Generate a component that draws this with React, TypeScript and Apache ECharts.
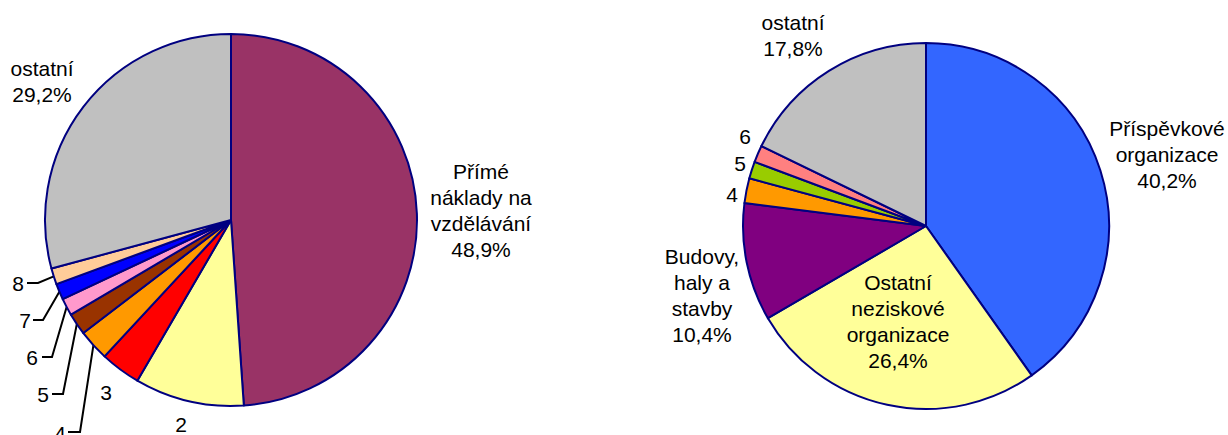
import React, { useEffect, useRef } from "react";
import * as echarts from "echarts";

const leftNames = ["Přímé náklady na vzdělávání", "2", "3", "4", "5", "6", "7", "8", "ostatní"];
const leftValues = [48.9, 9.5, 3.5, 2.7, 1.9, 1.5, 1.4, 1.4, 29.2];
const leftLabels = ["Přímé\nnáklady na\nvzdělávání\n48,9%", "2", "3", "4", "5", "6", "7", "8", "ostatní\n29,2%"];
const leftColors = ["#993366", "#FFFF99", "#FF0000", "#FF9900", "#993300", "#FF99CC", "#0000FF", "#FFCC99", "#C0C0C0"];

const rightNames = ["Příspěvkové organizace", "Ostatní neziskové organizace", "Budovy, haly a stavby", "4", "5", "6", "ostatní"];
const rightValues = [40.2, 26.4, 10.4, 2.2, 1.5, 1.5, 17.8];
const rightLabels = ["Příspěvkové\norganizace\n40,2%", "Ostatní\nneziskové\norganizace\n26,4%", "Budovy,\nhaly a\nstavby\n10,4%", "4", "5", "6", "ostatní\n17,8%"];
const rightColors = ["#3366FF", "#FFFF99", "#800080", "#FF9900", "#99CC00", "#FF8080", "#C0C0C0"];

// layout (label anchor positions, px)
const LEFT_C = [231, 220];
const LEFT_R = 186;
const RIGHT_C = [926, 226];
const RIGHT_R = 183;
const leftLabelPos: number[][] = [[481, 210], [181, 424], [106, 392], [60, 433], [43, 394], [32, 357], [25, 320], [18, 283], [42, 81]];
const leftElbow: Record<number, number[][]> = {
  3: [[80, 432], [68, 432]],
  4: [[63, 394], [52, 394]],
  5: [[52, 357], [42, 357]],
  6: [[43, 320], [33, 320]],
  7: [[38, 283], [27, 283]],
};
const rightLabelPos: number[][] = [[1167, 154], [898, 321], [702, 295], [732, 194], [740, 163], [745, 136], [793, 35]];

function rimPoint(values: number[], idx: number, c: number[], r: number) {
  const total = values.reduce((a, b) => a + b, 0);
  let start = 0;
  for (let i = 0; i < idx; i++) start += values[i];
  const a = ((start + values[idx] / 2) / total) * Math.PI * 2;
  return [c[0] + r * Math.sin(a), c[1] - r * Math.cos(a)];
}

const FONT = "'Liberation Sans', Arial, sans-serif";

export default function App() {
  const ref = useRef<HTMLDivElement>(null);
  useEffect(() => {
    document.body.style.margin = "0";
    const chart = echarts.init(ref.current!, undefined, { renderer: "svg" });
    const itemStyleBase = { borderColor: "#000080", borderWidth: 2 };
    chart.setOption({
      animation: false,
      backgroundColor: "#ffffff",
      series: [
        {
          type: "pie",
          center: LEFT_C,
          radius: LEFT_R,
          startAngle: 90,
          clockwise: true,
          avoidLabelOverlap: false,
          label: {
            show: true,
            position: "outside",
            color: "#000",
            fontSize: 21,
            lineHeight: 26,
            fontFamily: FONT,
            align: "center",
            formatter: (p: any) => leftLabels[p.dataIndex],
          },
          labelLine: { show: false, lineStyle: { color: "#000", width: 2 } },
          labelLayout: (p: any) => {
            const i = p.dataIndex;
            const pos = leftLabelPos[i];
            const res: any = { x: pos[0], y: pos[1], align: "center", verticalAlign: "middle" };
            if (leftElbow[i]) {
              res.labelLinePoints = [rimPoint(leftValues, i, LEFT_C, LEFT_R), leftElbow[i][0], leftElbow[i][1]];
            }
            return res;
          },
          data: leftNames.map((n, i) => ({
            name: n,
            value: leftValues[i],
            itemStyle: { ...itemStyleBase, color: leftColors[i] },
            labelLine: { show: !!leftElbow[i], length: 10, length2: 10, lineStyle: { color: "#000", width: 2 } },
          })),
        },
        {
          type: "pie",
          center: RIGHT_C,
          radius: RIGHT_R,
          startAngle: 90,
          clockwise: true,
          avoidLabelOverlap: false,
          label: {
            show: true,
            position: "outside",
            color: "#000",
            fontSize: 21,
            lineHeight: 26,
            fontFamily: FONT,
            align: "center",
            formatter: (p: any) => rightLabels[p.dataIndex],
          },
          labelLine: { show: false },
          labelLayout: (p: any) => {
            const pos = rightLabelPos[p.dataIndex];
            return { x: pos[0], y: pos[1], align: "center", verticalAlign: "middle" };
          },
          data: rightNames.map((n, i) => ({
            name: n,
            value: rightValues[i],
            itemStyle: { ...itemStyleBase, color: rightColors[i] },
          })),
        },
      ],
    });
    return () => chart.dispose();
  }, []);
  return <div ref={ref} style={{ width: 1228, height: 435 }} />;
}
